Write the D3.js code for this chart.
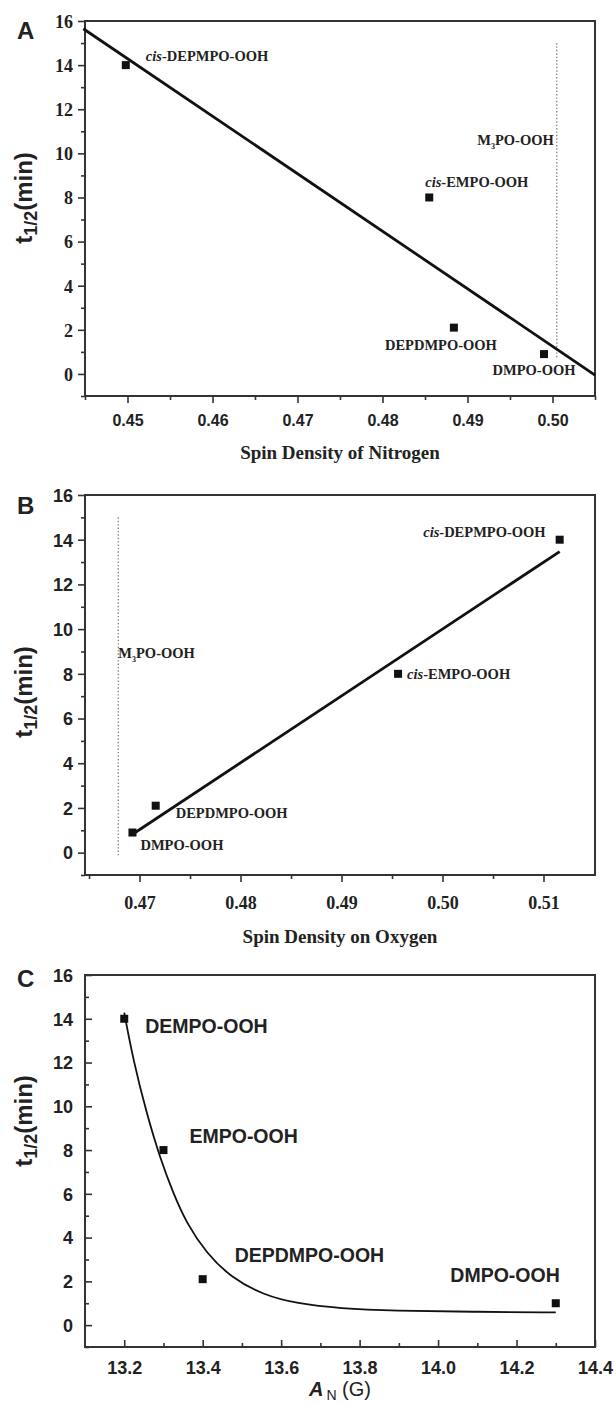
<!DOCTYPE html>
<html>
<head>
<meta charset="utf-8">
<script src="https://cdn.jsdelivr.net/npm/d3@7"></script>
<style>
  body { margin: 0; background: #fff; }
  svg { display: block; }
</style>
</head>
<body>
<div id="fig"></div>
<script>
// ---- data ----
// panel A : t1/2 vs spin density of nitrogen
var labelsA = ["cis-DEPMPO-OOH", "cis-EMPO-OOH", "DEPDMPO-OOH", "DMPO-OOH"]
var nitrogenA = [0.4498, 0.4855, 0.4884, 0.4990]
var halfLifeA = [14, 8, 2.1, 0.9]
var fitA_x = [0.4448, 0.505]
var fitA_y = [15.65, -0.05]
var m3poA = 0.5005          // M3PO-OOH reference (dotted)

// panel B : t1/2 vs spin density on oxygen
var labelsB = ["cis-DEPMPO-OOH", "cis-EMPO-OOH", "DEPDMPO-OOH", "DMPO-OOH"]
var oxygenB = [0.5116, 0.4956, 0.4716, 0.4693]
var halfLifeB = [14, 8, 2.1, 0.9]
var fitB_x = [0.4695, 0.5116]
var fitB_y = [0.88, 13.47]
var m3poB = 0.4679

// panel C : t1/2 vs A_N
var labelsC = ["DEMPO-OOH", "EMPO-OOH", "DEPDMPO-OOH", "DMPO-OOH"]
var anC = [13.2, 13.3, 13.4, 14.3]
var halfLifeC = [14, 8, 2.1, 1.0]
var curveC_x = [13.2, 13.223, 13.257, 13.291, 13.325, 13.359, 13.41, 13.47, 13.555, 13.64, 13.75, 13.888, 14.089, 14.3]
var curveC_y = [14.28, 12.11, 9.68, 7.65, 6.02, 4.65, 3.28, 2.21, 1.37, 0.99, 0.76, 0.65, 0.61, 0.58]

var yMajor = [0, 2, 4, 6, 8, 10, 12, 14, 16]
var yMinor = [-1, 1, 3, 5, 7, 9, 11, 13, 15]
var xMajorA = [0.45, 0.46, 0.47, 0.48, 0.49, 0.50]
var xMinorA = [0.445, 0.455, 0.465, 0.475, 0.485, 0.495, 0.505]
var xMajorB = [0.47, 0.48, 0.49, 0.50, 0.51]
var xMinorB = [0.465, 0.475, 0.485, 0.495, 0.505]
var xMajorC = [13.2, 13.4, 13.6, 13.8, 14.0, 14.2, 14.4]
var xMinorC = [13.3, 13.5, 13.7, 13.9, 14.1, 14.3]

// ---- layout ----
var width = 616, height = 1406
var left = 85, right = 595
var serif = "'Liberation Serif', 'Times New Roman', serif"
var sans = "'Liberation Sans', Arial, sans-serif"
var ink = "#222"

var svg = d3.select("#fig").append("svg")
    .attr("width", width)
    .attr("height", height)

function drawPanel(p) {
  var g = svg.append("g")
  var x = d3.scaleLinear().domain(p.xDomain).range([left, right])
  var y = d3.scaleLinear().domain([-1, 16]).range([p.bottom, p.top])
  var tk = p.inward ? -7 : 7
  var tkm = p.inward ? -4 : 4

  // minor ticks
  g.append("g").attr("transform", "translate(0," + p.bottom + ")")
    .call(d3.axisBottom(x).tickValues(p.xMinor).tickSize(tkm).tickFormat(""))
  g.append("g").attr("transform", "translate(" + left + ",0)")
    .call(d3.axisLeft(y).tickValues(yMinor).tickSize(tkm).tickFormat(""))

  // major ticks
  var xa = g.append("g").attr("transform", "translate(0," + p.bottom + ")")
    .call(d3.axisBottom(x).tickValues(p.xMajor).tickSize(tk).tickFormat(d3.format(p.xFmt)))
  xa.selectAll("text").attr("y", p.xLabelY).attr("dy", null)
    .style("font-family", p.xFont).style("font-size", p.xFontSize + "px").style("font-weight", "bold")
  var ya = g.append("g").attr("transform", "translate(" + left + ",0)")
    .call(d3.axisLeft(y).tickValues(yMajor).tickSize(tk))
  ya.selectAll("text").attr("x", -12).attr("dy", "0.35em")
    .style("font-family", p.yFont).style("font-size", "18px").style("font-weight", "bold")

  g.selectAll(".domain").remove()
  g.selectAll(".tick line").attr("stroke", "#333").attr("stroke-width", 1.6)
  g.selectAll(".tick text").attr("fill", ink)

  // frame
  g.append("rect")
    .attr("x", left).attr("y", p.top)
    .attr("width", right - left).attr("height", p.bottom - p.top)
    .attr("fill", "none").attr("stroke", "#333").attr("stroke-width", 2)

  // reference dotted line (M3PO-OOH)
  if (p.vline != null) {
    g.append("line")
      .attr("x1", x(p.vline)).attr("x2", x(p.vline))
      .attr("y1", y(15)).attr("y2", y(p.vlineEnd))
      .attr("stroke", "#888").attr("stroke-width", 1.4)
      .attr("stroke-dasharray", "1.4,2")
    var mt = g.append("text")
      .attr("x", x(p.vline) + p.vlabelDx).attr("y", y(p.vlabelY))
      .attr("text-anchor", p.vlabelAnchor)
      .style("font-family", serif).style("font-size", "14.5px").style("font-weight", "bold")
      .attr("fill", ink)
    mt.append("tspan").text("M")
    mt.append("tspan").text("3").style("font-size", "8px").attr("dy", 4)
    mt.append("tspan").text("PO-OOH").attr("dy", -4)
  }

  // fit line / curve
  var pts = p.fitX.map(function(d, i) { return [d, p.fitY[i]] })
  g.append("path")
    .datum(pts)
    .attr("d", d3.line().x(function(d) { return x(d[0]) }).y(function(d) { return y(d[1]) })
      .curve(d3.curveBasis))
    .attr("fill", "none").attr("stroke", "#111").attr("stroke-width", p.fitWidth)

  // points
  var data = p.xs.map(function(d, i) { return {x: d, y: p.ys[i], name: p.names[i], off: p.offsets[i]} })
  g.selectAll("rect.pt").data(data).enter().append("rect")
    .attr("class", "pt")
    .attr("x", function(d) { return x(d.x) - 4 })
    .attr("y", function(d) { return y(d.y) - 4 })
    .attr("width", 8).attr("height", 8)
    .attr("fill", "#111")

  // point labels
  var lab = g.selectAll("text.lab").data(data).enter().append("text")
    .attr("class", "lab")
    .attr("x", function(d) { return x(d.x) + d.off[0] })
    .attr("y", function(d) { return y(d.y) + d.off[1] })
    .attr("text-anchor", function(d) { return d.off[2] })
    .style("font-family", p.labelFont).style("font-size", p.labelSize + "px").style("font-weight", "bold")
    .attr("fill", ink)
  lab.each(function(d) {
    var t = d3.select(this)
    if (d.name.indexOf("cis-") === 0) {
      t.append("tspan").text("cis").style("font-style", "italic")
      t.append("tspan").text(d.name.slice(3))
    } else {
      t.text(d.name)
    }
  })

  // x axis title
  var xt = g.append("text")
    .attr("x", (left + right) / 2).attr("y", p.xTitleY)
    .attr("text-anchor", "middle").attr("fill", ink)
  if (p.xTitle === "AN") {
    xt.style("font-family", sans).style("font-size", "20px")
    xt.append("tspan").text("A").style("font-style", "italic").style("font-weight", "bold")
    xt.append("tspan").text("N").style("font-size", "14px").attr("dx", 3).attr("dy", 4)
    xt.append("tspan").text(" (G)").attr("dy", -4)
  } else {
    xt.style("font-family", serif).style("font-size", "19px").style("font-weight", "bold").text(p.xTitle)
  }

  // y axis title t1/2(min)
  var yt = g.append("text")
    .attr("transform", "translate(32," + p.yTitleY + ") rotate(-90)")
    .attr("text-anchor", "middle")
    .style("font-family", sans).style("font-size", "24px").style("font-weight", "bold")
    .attr("fill", ink)
  yt.append("tspan").text("t")
  yt.append("tspan").text("1/2").style("font-size", "18px").attr("dy", 5)
  yt.append("tspan").text("(min)").attr("dy", -5)

  // panel letter
  g.append("text")
    .attr("x", 17).attr("y", p.letterY)
    .style("font-family", sans).style("font-size", "24px").style("font-weight", "bold")
    .attr("fill", ink).text(p.letter)
}

drawPanel({
  letter: "A", letterY: 39, top: 21, bottom: 396,
  xDomain: [0.445, 0.505], xMajor: xMajorA, xMinor: xMinorA, xFmt: ".2f",
  xFont: sans, xFontSize: 16, xLabelY: 30, yFont: serif, inward: false,
  xs: nitrogenA, ys: halfLifeA, names: labelsA,
  offsets: [[20, -4, "start"], [-4, -10, "start"], [-13, 22, "middle"], [-10, 21, "middle"]],
  labelFont: serif, labelSize: 14.5,
  fitX: fitA_x, fitY: fitA_y, fitWidth: 2.8,
  vline: m3poA, vlineEnd: 0.7, vlabelDx: -3, vlabelY: 10.4, vlabelAnchor: "end",
  xTitle: "Spin Density of Nitrogen", xTitleY: 459, yTitleY: 198
})

drawPanel({
  letter: "B", letterY: 514, top: 495, bottom: 875,
  xDomain: [0.4646, 0.5151], xMajor: xMajorB, xMinor: xMinorB, xFmt: ".2f",
  xFont: serif, xFontSize: 18, xLabelY: 34, yFont: sans, inward: false,
  xs: oxygenB, ys: halfLifeB, names: labelsB,
  offsets: [[-14, -3, "end"], [9, 5, "start"], [20, 12, "start"], [8, 17, "start"]],
  labelFont: serif, labelSize: 14.5,
  fitX: fitB_x, fitY: fitB_y, fitWidth: 2.8,
  vline: m3poB, vlineEnd: -0.2, vlabelDx: 0, vlabelY: 8.7, vlabelAnchor: "start",
  xTitle: "Spin Density on Oxygen", xTitleY: 943, yTitleY: 692
})

drawPanel({
  letter: "C", letterY: 987, top: 975, bottom: 1347,
  xDomain: [13.1, 14.4], xMajor: xMajorC, xMinor: xMinorC, xFmt: ".1f",
  xFont: sans, xFontSize: 18, xLabelY: 27, yFont: sans, inward: true,
  xs: anC, ys: halfLifeC, names: labelsC,
  offsets: [[21, 14, "start"], [26, -7, "start"], [32, -17, "start"], [4, -21, "end"]],
  labelFont: sans, labelSize: 19.5,
  fitX: curveC_x, fitY: curveC_y, fitWidth: 1.8,
  vline: null,
  xTitle: "AN", xTitleY: 1396, yTitleY: 1121
})
</script>
</body>
</html>
